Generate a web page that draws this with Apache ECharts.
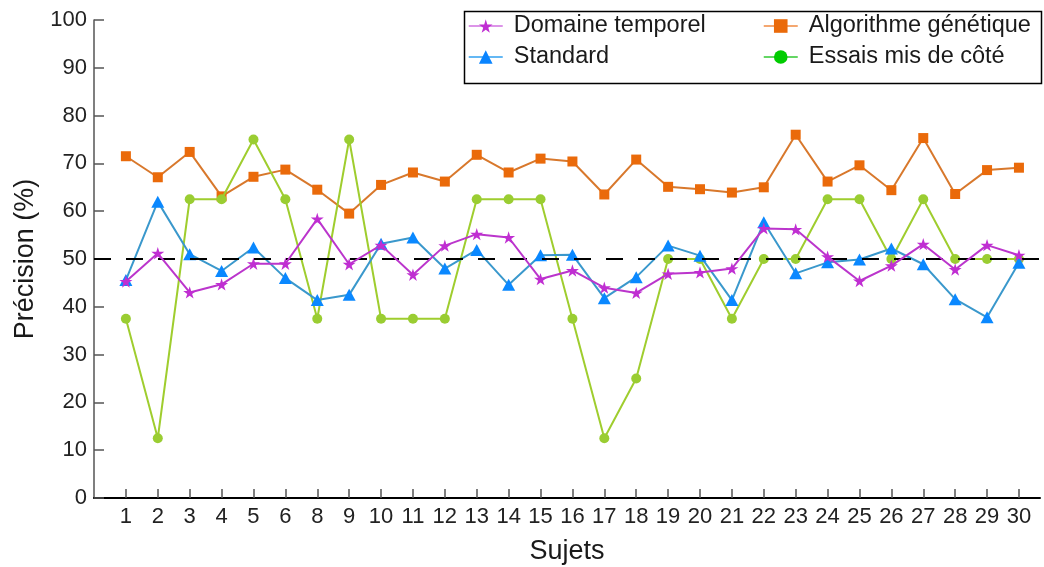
<!DOCTYPE html>
<html>
<head>
<meta charset="utf-8">
<script src="https://cdn.jsdelivr.net/npm/echarts@6/dist/echarts.min.js"></script>
<style>
  html, body { margin: 0; padding: 0; background: #fff; }
  #chart { width: 1044px; height: 567px; }
</style>
</head>
<body>
<div id="chart"></div>
<script>
// Subjects (subject 7 is absent from the study)
const categories = ['1','2','3','4','5','6','8','9','10','11','12','13','14','15','16',
  '17','18','19','20','21','22','23','24','25','26','27','28','29','30'];

// Accuracy per subject (%)
const domaineTemporel = [45.3, 51.2, 43.0, 44.7, 49.0, 49.0, 58.4, 48.9, 52.9, 46.7, 52.8, 55.2, 54.5, 45.8, 47.6,
  44.0, 42.9, 46.9, 47.2, 48.0, 56.4, 56.2, 50.5, 45.4, 48.6, 53.1, 47.8, 52.9, 50.8];
const standard = [45.6, 62.0, 51.0, 47.5, 52.4, 46.0, 41.4, 42.5, 53.2, 54.5, 48.0, 51.9, 44.6, 50.8, 50.9,
  41.8, 46.2, 52.8, 50.7, 41.4, 57.7, 47.0, 49.3, 49.9, 52.2, 48.9, 41.6, 37.8, 49.2];
const algorithmeGenetique = [71.5, 67.1, 72.4, 63.1, 67.2, 68.7, 64.5, 59.5, 65.5, 68.1, 66.2, 71.8, 68.1, 71.0, 70.4,
  63.5, 70.8, 65.1, 64.6, 63.9, 65.0, 76.0, 66.2, 69.6, 64.4, 75.3, 63.6, 68.6, 69.1];
const essaisMisDeCote = [37.5, 12.5, 62.5, 62.5, 75.0, 62.5, 37.5, 75.0, 37.5, 37.5, 37.5, 62.5, 62.5, 62.5, 37.5,
  12.5, 25.0, 50.0, 50.0, 37.5, 50.0, 50.0, 62.5, 62.5, 50.0, 62.5, 50.0, 50.0, 50.0];

// Chance level
const seuil = 50;

const yTicks = [0, 10, 20, 30, 40, 50, 60, 70, 80, 90, 100];

const STAR = 'path://M50,0 L61,35 L98,35 L68,57 L79,91 L50,70 L21,91 L32,57 L2,35 L39,35 Z';
const FONT = '"Liberation Sans", Arial, Helvetica, sans-serif';

const idx = categories.map((c, i) => i);
const toPoints = arr => arr.map((v, i) => [i, v]);

const chart = echarts.init(document.getElementById('chart'), null, { renderer: 'canvas' });

function lineSeries(name, values, opts) {
  return Object.assign({
    name: name,
    type: 'line',
    data: toPoints(values),
    showSymbol: true,
    symbolKeepAspect: true,
    lineStyle: { width: 2, color: opts.line },
    itemStyle: { color: opts.marker },
    emphasis: { disabled: true },
    animation: false
  }, opts.extra || {});
}

const legendText = { fontSize: 23.5, color: '#1a1a1a', fontFamily: FONT, padding: [0, 0, 0, 6] };

chart.setOption({
  animation: false,
  backgroundColor: '#ffffff',
  textStyle: { fontFamily: FONT },
  grid: { left: 94, right: 4, top: 20, bottom: 69, outerBoundsMode: 'none', containLabel: false },
  xAxis: {
    type: 'value',
    min: -1,
    max: 28.66,
    name: 'Sujets',
    nameLocation: 'middle',
    nameGap: 40,
    nameTextStyle: { fontSize: 27, color: '#1a1a1a', fontFamily: FONT },
    axisLine: { show: true, onZero: false, lineStyle: { color: '#000', width: 2 } },
    axisTick: { show: true, inside: true, length: 9, customValues: idx, lineStyle: { color: '#555', width: 1.5 } },
    axisLabel: {
      customValues: idx,
      formatter: v => categories[v],
      fontSize: 22, color: '#222', margin: 8, fontFamily: FONT
    },
    splitLine: { show: false }
  },
  yAxis: {
    type: 'value',
    min: 0,
    max: 100,
    interval: 10,
    name: 'Précision (%)',
    nameLocation: 'middle',
    nameGap: 53,
    nameRotate: 90,
    nameTextStyle: { fontSize: 27, color: '#1a1a1a', fontFamily: FONT },
    axisLine: { show: true, onZero: false, lineStyle: { color: '#555', width: 1.5 } },
    axisTick: { show: true, inside: true, length: 10, lineStyle: { color: '#555', width: 1.5 } },
    axisLabel: {
      customValues: yTicks,
      fontSize: 22, color: '#222', margin: 7, fontFamily: FONT
    },
    splitLine: { show: false }
  },
  legend: [
    {
      orient: 'vertical',
      left: 463, top: 9,
      itemWidth: 34, itemHeight: 17, itemGap: 7,
      textStyle: legendText,
      selectedMode: false,
      data: [
        { name: 'Domaine temporel', itemStyle: { color: '#c02ed2' }, lineStyle: { color: '#d070e0', width: 1.5 } },
        { name: 'Standard', itemStyle: { color: '#0a84ff' }, lineStyle: { color: '#30a0f0', width: 1.5 } }
      ]
    },
    {
      orient: 'vertical',
      left: 758, top: 9,
      itemWidth: 34, itemHeight: 17, itemGap: 7,
      textStyle: legendText,
      selectedMode: false,
      data: [
        { name: 'Algorithme génétique', itemStyle: { color: '#ea6a0a' }, lineStyle: { color: '#f08a40', width: 1.5 } },
        { name: 'Essais mis de côté', itemStyle: { color: '#00cc00' }, lineStyle: { color: '#30c830', width: 1.5 } }
      ]
    }
  ],
  graphic: [
    {
      type: 'rect',
      left: 462, top: 9,
      shape: { width: 577, height: 72 },
      style: { fill: 'none', stroke: '#000', lineWidth: 1.5 },
      silent: true,
      z: 10
    }
  ],
  series: [
    lineSeries('Algorithme génétique', algorithmeGenetique, {
      line: '#d8782c', marker: '#ea6a0a',
      extra: { symbol: 'rect', symbolSize: 10, z: 2 }
    }),
    lineSeries('Essais mis de côté', essaisMisDeCote, {
      line: '#9fcd2e', marker: '#9acd32',
      extra: { symbol: 'circle', symbolSize: 10, z: 3 }
    }),
    lineSeries('Standard', standard, {
      line: '#3a98cc', marker: '#0a88ff',
      extra: { symbol: 'triangle', symbolSize: [13, 12], z: 4 }
    }),
    lineSeries('Domaine temporel', domaineTemporel, {
      line: '#bb35cc', marker: '#c02ed2',
      extra: {
        symbol: STAR, symbolSize: 13, z: 5,
        markLine: {
          silent: true,
          symbol: ['none', 'none'],
          label: { show: false },
          lineStyle: { color: '#000', width: 2, type: [17, 15] },
          data: [{ yAxis: seuil }],
          animation: false
        }
      }
    })
  ]
});
</script>
</body>
</html>
